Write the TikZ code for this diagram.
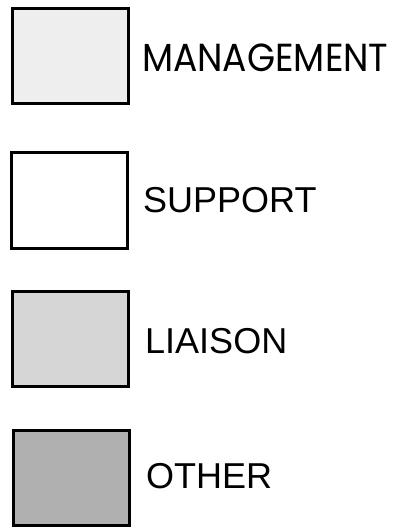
\documentclass[tikz,border=0pt]{standalone}
\usepackage{fontspec}
\setmainfont{Liberation Sans}
\newfontfamily\geofont{Poppins}
\usepackage{tikz}
\usetikzlibrary{positioning}
\tikzset{
    legendbox/.style={rectangle, draw=black, fill=#1, line width=3pt, minimum width=116pt, minimum height=95pt, inner sep=0pt},
    legendtext/.style={anchor=base west, inner sep=0pt, font=\fontsize{36}{40}\selectfont}
}

\begin{document}
\begin{tikzpicture}[x=1pt, y=-1pt]

\useasboundingbox (0,0) rectangle (405,529);

\node[legendbox=gray!13] (mgmt) at (70,56.5) {};
\node[legendbox=white] (supp) at (69.5,200.5) {};
\node[legendbox=gray!32] (liai) at (70.5,338.5) {};
\node[legendbox=gray!62] (othr) at (71,478) {};

\node[legendtext, font=\geofont\fontsize{38}{42}\selectfont] (mgmtlbl) at (142,72) {\scalebox{0.95}[1.03]{MANAGEMENT}};
\node[legendtext] (supplbl) at (143,212) {SUPPORT};
\node[legendtext] (liailbl) at (145,353) {LIAISON};
\node[legendtext] (othrlbl) at (146,488) {OTHER};

\end{tikzpicture}
\end{document}
